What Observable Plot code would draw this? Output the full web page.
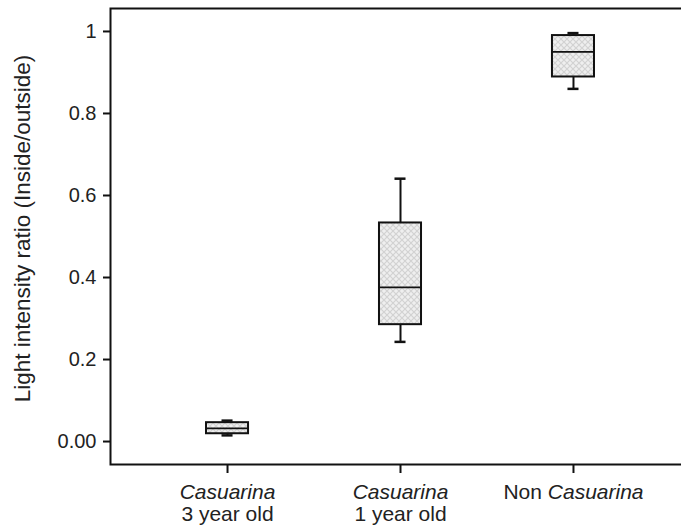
<!DOCTYPE html>
<html>
<head>
<meta charset="utf-8">
<script src="https://cdn.jsdelivr.net/npm/d3@7"></script>
<script src="https://cdn.jsdelivr.net/npm/@observablehq/plot@0.6"></script>
<style>
  html, body { margin: 0; padding: 0; background: #fff; overflow: hidden; width: 681px; height: 529px; }
  #chart { width: 681px; height: 529px; overflow: hidden; }
  #chart svg { max-width: none !important; }
</style>
</head>
<body>
<div id="chart"></div>
<script>
// ---- data ----
const categories = ["Casuarina 3 year old", "Casuarina 1 year old", "Non Casuarina"];
const labelPlain = ["", "", "Non "];
const labelItalic = ["Casuarina", "Casuarina", "Casuarina"];
const labelLine2 = ["3 year old", "1 year old", ""];
const mins    = [0.015, 0.243, 0.860];
const q1s     = [0.019, 0.285, 0.889];
const medians = [0.032, 0.376, 0.950];
const q3s     = [0.046, 0.533, 0.990];
const maxs    = [0.051, 0.641, 0.996];
const yTickValues = [0, 0.2, 0.4, 0.6, 0.8, 1];
const yTickLabels = ["0.00", "0.2", "0.4", "0.6", "0.8", "1"];
const yLabel = "Light intensity ratio (Inside/outside)";

const rows = categories.map((c, i) => ({
  cat: c, min: mins[i], q1: q1s[i], median: medians[i], q3: q3s[i], max: maxs[i]
}));

const FONT = "'Liberation Sans', Arial, sans-serif";
const INK = "#111";

const chart = Plot.plot({
  width: 690,
  height: 529,
  marginLeft: 110,
  marginRight: 0,
  marginTop: 8,
  marginBottom: 65,
  style: { fontFamily: FONT, fontSize: "20px", color: "#222", background: "#fff", maxWidth: "none" },
  x: { domain: categories, range: [110, 690], paddingInner: 0.757, paddingOuter: 0.555, round: false, label: null },
  y: { domain: [-0.056, 1.056], label: null },
  marks: [
    Plot.frame({ stroke: INK, strokeWidth: 2 }),
    Plot.axisY({
      ticks: yTickValues,
      tickFormat: (d) => yTickLabels[yTickValues.indexOf(d)],
      tickSize: 7, tickPadding: 7, strokeWidth: 2, stroke: INK,
      fontSize: 20, label: null
    }),
    Plot.axisX({
      tickSize: 9, tickPadding: 11, strokeWidth: 2, stroke: INK,
      fontSize: 21, label: null, tickFormat: (d) => d
    }),
    Plot.text([yLabel], {
      frameAnchor: "left", rotate: -90, dx: -88, dy: -8,
      textAnchor: "middle", lineAnchor: "middle",
      fontSize: 22.5, fill: "#222"
    }),
    // whiskers
    Plot.ruleX(rows, { x: "cat", y1: "min", y2: "q1", stroke: INK, strokeWidth: 2 }),
    Plot.ruleX(rows, { x: "cat", y1: "q3", y2: "max", stroke: INK, strokeWidth: 2 }),
    Plot.tickY(rows, { x: "cat", y: "min", stroke: INK, strokeWidth: 2.5, insetLeft: 15.5, insetRight: 15.5 }),
    Plot.tickY(rows, { x: "cat", y: "max", stroke: INK, strokeWidth: 2.5, insetLeft: 15.5, insetRight: 15.5 }),
    // boxes
    Plot.barY(rows, { x: "cat", y1: "q1", y2: "q3", fill: "url(#hatch)", stroke: INK, strokeWidth: 2 }),
    Plot.tickY(rows, { x: "cat", y: "median", stroke: INK, strokeWidth: 1.8 })
  ]
});
chart.style.maxWidth = "none";

// cross-hatch pattern for box fills
const svg = d3.select(chart);
svg.insert("defs", ":first-child").html(
  '<pattern id="hatch" patternUnits="userSpaceOnUse" width="6" height="6">' +
  '<rect width="6" height="6" fill="#efefef"/>' +
  '<path d="M0,0 L6,6 M6,0 L0,6" stroke="#d2d2d2" stroke-width="1.2"/>' +
  '</pattern>'
);

// rich x tick labels (italic genus name, two lines)
svg.selectAll("g[aria-label='x-axis tick label'] text").each(function (d, i) {
  const t = d3.select(this);
  t.text(null).attr("y", null).attr("font-size", 21);
  const l1 = t.append("tspan").attr("x", 0).attr("y", 0).attr("dy", "0.71em");
  if (labelPlain[i]) l1.append("tspan").text(labelPlain[i]);
  l1.append("tspan").attr("font-style", "italic").text(labelItalic[i]);
  if (labelLine2[i]) t.append("tspan").attr("x", 0).attr("dy", "1.05em").text(labelLine2[i]);
});

document.getElementById("chart").appendChild(chart);
</script>
</body>
</html>
